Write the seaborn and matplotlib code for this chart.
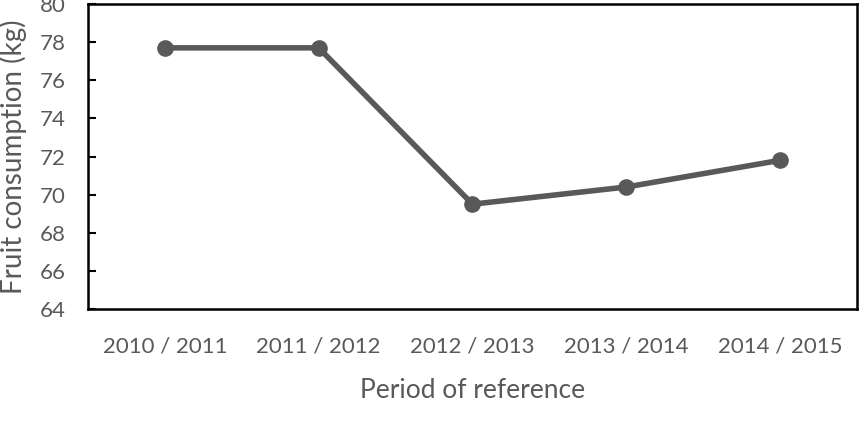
import numpy as np
import pandas as pd
import matplotlib
matplotlib.use("Agg")
import matplotlib.pyplot as plt
import seaborn as sns

periods = ["2010 / 2011", "2011 / 2012", "2012 / 2013", "2013 / 2014", "2014 / 2015"]
consumption = [77.7, 77.7, 69.5, 70.4, 71.8]

df = pd.DataFrame({"period": periods, "kg": consumption})

sns.set_style("white")
plt.rcParams["font.family"] = ["Lato", "DejaVu Sans"]

grey = "#595959"
fig = plt.figure(figsize=(8.63, 4.26), dpi=100)
ax = fig.add_axes([0.102, 0.2746, 0.891, 0.716])

sns.lineplot(data=df, x="period", y="kg", ax=ax, color=grey, linewidth=4,
             marker="o", markersize=12, markeredgewidth=0, sort=False)

ax.set_xlim(-0.5, len(periods) - 0.5)
ax.set_ylim(64, 80)
ax.set_yticks(np.arange(64, 81, 2))

# category ticks without marks, boundary ticks as minor marks
ax.set_xticks(range(len(periods)))
ax.set_xticklabels(periods)
ax.set_xticks(np.arange(-0.5, len(periods), 1), minor=True)
ax.tick_params(axis="x", which="major", length=0, pad=20, labelsize=16, labelcolor=grey)
ax.tick_params(axis="x", which="minor", direction="in", length=6, width=1.5, color="black")
ax.tick_params(axis="y", direction="in", length=6, width=1.5, color="black",
               labelsize=16, labelcolor=grey, pad=16, left=True)

for s in ax.spines.values():
    s.set_visible(True)
    s.set_color("black")
    s.set_linewidth(1.8)

ax.set_xlabel("Period of reference", fontsize=19, color=grey, labelpad=15)
ax.set_ylabel("Fruit consumption (kg)", fontsize=20, color=grey, labelpad=9)

fig.savefig("out.png", dpi=100)
